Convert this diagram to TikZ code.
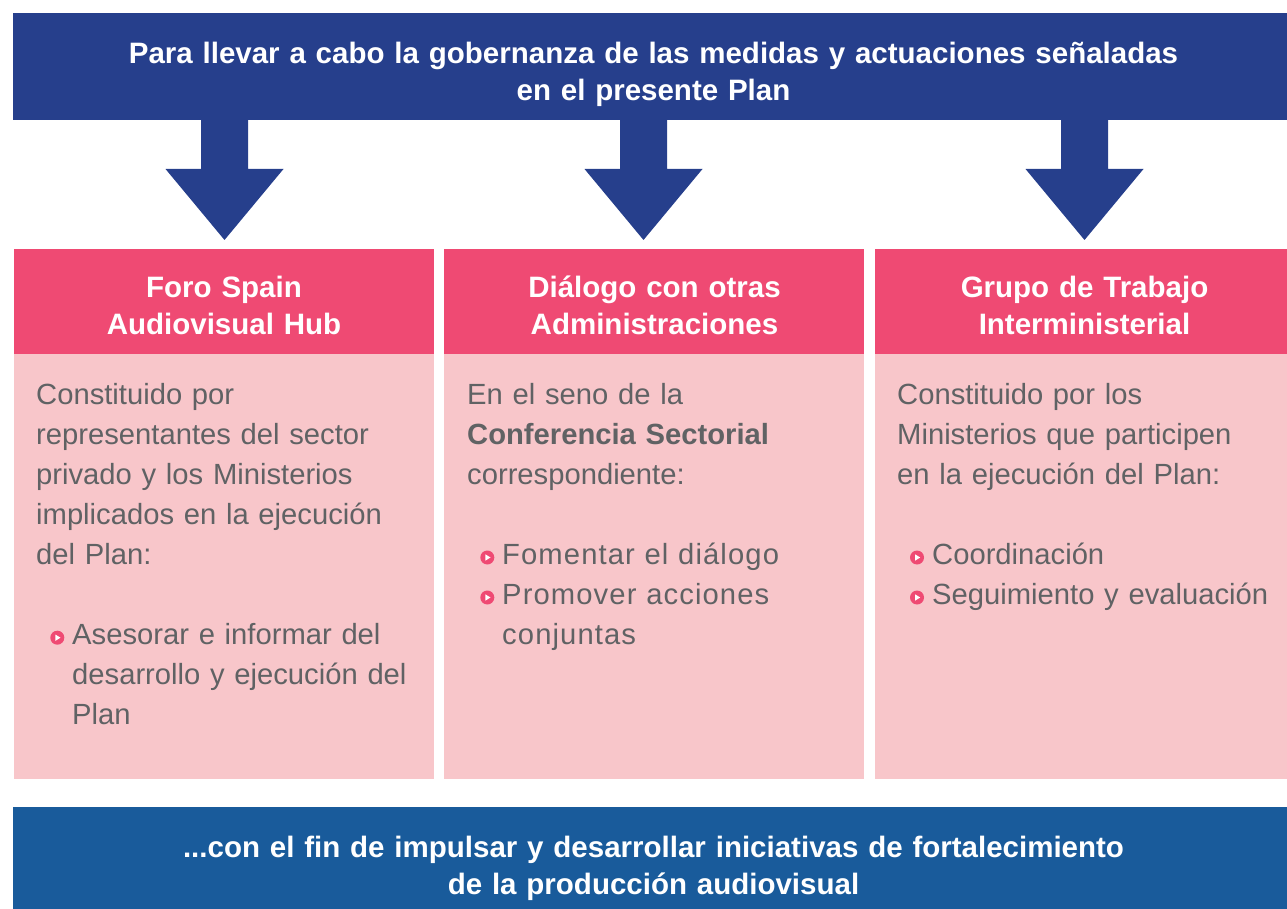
\documentclass[tikz,border=0pt]{standalone}
\usepackage{fontspec}
\setmainfont{Liberation Sans}
\newfontfamily\spacedfont[LetterSpace=3.8]{Liberation Sans}
\usetikzlibrary{calc}
\definecolor{topblue}{HTML}{263F8C}
\definecolor{headpink}{HTML}{EF4A73}
\definecolor{bodypink}{HTML}{F8C6CA}
\definecolor{botblue}{HTML}{195B9B}
\definecolor{bodygray}{HTML}{606264}
\tikzset{
  box/.style={rectangle, inner sep=0pt, draw=none},
  bannertext/.style={inner sep=0pt, anchor=north, text width=1250pt, align=center, text=white,
    font=\fontsize{29.5}{37}\selectfont\bfseries},
  headtext/.style={inner sep=0pt, anchor=north, text width=400pt, align=center, text=white,
    font=\fontsize{29.5}{37}\selectfont\bfseries},
  bodytext/.style={inner sep=0pt, anchor=north west, text width=400pt, align=left, text=bodygray,
    font=\fontsize{29.2}{40}\selectfont},
  spacedtext/.style={bodytext, font=\fontsize{29.2}{40}\selectfont\spacedfont},
  bulletdot/.style={circle, fill=headpink, minimum size=14pt, inner sep=0pt,
    path picture={\fill[white] ($(path picture bounding box.center)+(-2,-3.2)$) -- ++(5.2,3.2) -- ++(-5.2,3.2) -- cycle;}},
  govarrow/.style={fill=topblue}
}
\begin{document}
\begin{tikzpicture}[x=1pt,y=-1pt]
\useasboundingbox (0,0) rectangle (1287,909);
% banners and boxes
\node[box, fill=topblue, minimum width=1274pt, minimum height=107pt] (top) at (650,66.5) {};
\node[box, fill=botblue, minimum width=1274pt, minimum height=102pt] (bottom) at (650,858) {};
\node[box, fill=headpink, minimum width=420pt, minimum height=105pt] (h1) at (224,301.5) {};
\node[box, fill=headpink, minimum width=420pt, minimum height=105pt] (h2) at (654,301.5) {};
\node[box, fill=headpink, minimum width=412pt, minimum height=105pt] (h3) at (1081,301.5) {};
\node[box, fill=bodypink, minimum width=420pt, minimum height=425pt] (b1) at (224,566.5) {};
\node[box, fill=bodypink, minimum width=420pt, minimum height=425pt] (b2) at (654,566.5) {};
\node[box, fill=bodypink, minimum width=412pt, minimum height=425pt] (b3) at (1081,566.5) {};
% arrows
\coordinate (a1) at (224.5,240);
\coordinate (a2) at (643.5,240);
\coordinate (a3) at (1084.5,240);
\foreach \n in {a1,a2,a3}{
  \fill[govarrow] ($(top.south -| \n)+(-23.5,0)$) -- ($(\n)+(-23.5,-71)$) -- ($(\n)+(-59,-71)$)
    -- (\n) -- ($(\n)+(59,-71)$) -- ($(\n)+(23.5,-71)$) -- ($(top.south -| \n)+(23.5,0)$) -- cycle;
}
% banner texts
\node[bannertext] (toptext) at (653.5,37.1) {\strut Para llevar a cabo la gobernanza de las medidas y actuaciones señaladas\\en el presente Plan};
\node[bannertext] (bottext) at (653.5,831.1) {\strut ...con el fin de impulsar y desarrollar iniciativas de fortalecimiento\\de la producción audiovisual};
% header texts
\node[headtext] (t1) at (224,271.1) {\strut Foro Spain\\Audiovisual Hub};
\node[headtext] (t2) at (654.5,271.1) {\strut Diálogo con otras\\Administraciones};
\node[headtext] (t3) at (1084.5,271.1) {\strut Grupo de Trabajo\\Interministerial};
% body texts
\node[bodytext] (p1) at (36,376) {\strut Constituido por\\representantes del sector\\privado y los Ministerios\\implicados en la ejecución\\del Plan:};
\node[bodytext] (l1) at (72,616) {\strut Asesorar e informar del\\desarrollo y ejecución del\\Plan};
\node[bulletdot] (d11) at (57.3,637.7) {};
\node[bodytext] (p2) at (467,376) {\strut En el seno de la\\{\bfseries Conferencia Sectorial}\\correspondiente:};
\node[spacedtext] (l2) at (502,536) {\strut Fomentar el diálogo\\Promover acciones\\conjuntas};
\node[bulletdot] (d21) at (487.3,557.5) {};
\node[bulletdot] (d22) at (487.3,597.5) {};
\node[bodytext] (p3) at (897,376) {\strut Constituido por los\\Ministerios que participen\\en la ejecución del Plan:};
\node[bodytext] (l3) at (932,536) {\strut Coordinación\\Seguimiento y evaluación};
\node[bulletdot] (d31) at (917,557.5) {};
\node[bulletdot] (d32) at (917,597.5) {};
\end{tikzpicture}
\end{document}
